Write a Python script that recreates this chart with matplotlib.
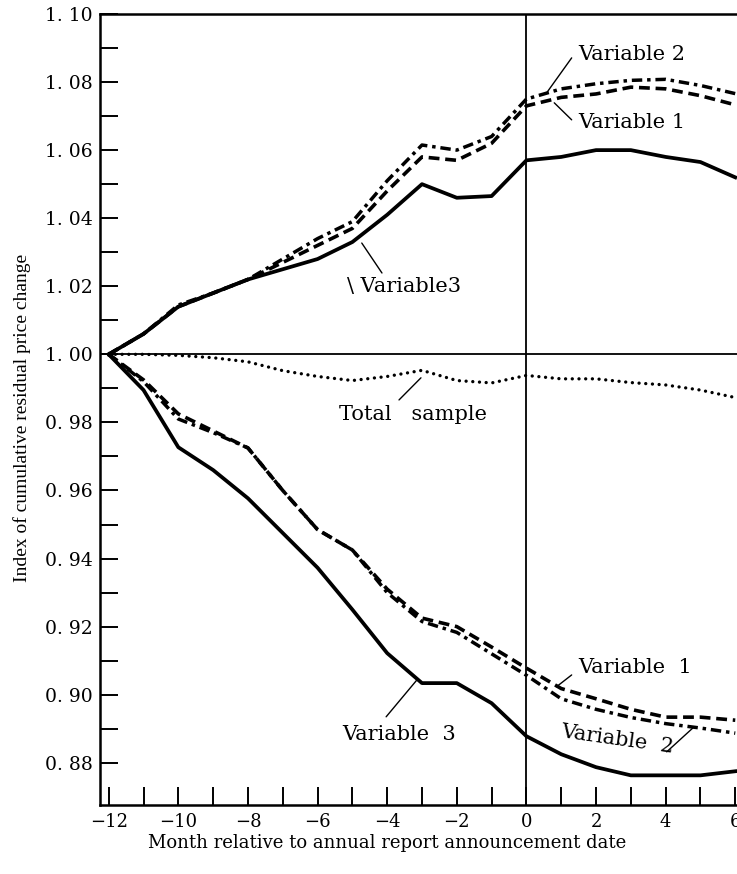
import matplotlib
matplotlib.use("Agg")
import matplotlib.pyplot as plt
import numpy as np

plt.rcParams["font.family"] = ["DejaVu Serif"]

# months relative to announcement
months = list(range(-12, 7))

# upper group (good news)
var1_up = [1.000, 1.006, 1.014, 1.018, 1.022, 1.027, 1.032, 1.037, 1.048, 1.058,
           1.057, 1.062, 1.073, 1.0755, 1.0765, 1.0785, 1.078, 1.076, 1.0733]
var2_up = [1.000, 1.006, 1.0145, 1.018, 1.022, 1.028, 1.034, 1.039, 1.051, 1.0615,
           1.060, 1.064, 1.075, 1.078, 1.0795, 1.0805, 1.0808, 1.079, 1.0766]
var3_up = [1.000, 1.006, 1.014, 1.018, 1.022, 1.025, 1.028, 1.033, 1.041, 1.050,
           1.046, 1.0465, 1.057, 1.058, 1.060, 1.060, 1.058, 1.0565, 1.052]

# total sample
total = [1.000, 1.000, 0.9997, 0.9990, 0.9978, 0.9952, 0.9935, 0.9923, 0.9935, 0.9953,
         0.9923, 0.9916, 0.9938, 0.9928, 0.9928, 0.9917, 0.9910, 0.9895, 0.9873]

# lower group (bad news)
var1_lo = [1.000, 0.9925, 0.9825, 0.9775, 0.9725, 0.960, 0.9485, 0.9425, 0.931, 0.9225,
           0.920, 0.914, 0.9078, 0.9018, 0.8988, 0.8957, 0.8934, 0.8934, 0.8925]
var2_lo = [1.000, 0.992, 0.981, 0.977, 0.9725, 0.960, 0.9485, 0.9425, 0.930, 0.9215,
           0.9183, 0.912, 0.9057, 0.8988, 0.8957, 0.8933, 0.8915, 0.8902, 0.8887]
var3_lo = [1.000, 0.9895, 0.9727, 0.966, 0.9577, 0.9475, 0.9373, 0.925, 0.9122, 0.9034,
           0.9034, 0.8975, 0.8878, 0.8825, 0.8787, 0.8763, 0.8763, 0.8763, 0.8775]

yticks = [0.88, 0.90, 0.92, 0.94, 0.96, 0.98, 1.00, 1.02, 1.04, 1.06, 1.08, 1.10]
ytick_labels = ["0. 88", "0. 90", "0. 92", "0. 94", "0. 96", "0. 98",
                "1. 00", "1. 02", "1. 04", "1. 06", "1. 08", "1. 10"]
xticks = [-12, -10, -8, -6, -4, -2, 0, 2, 4, 6]
xtick_labels = ["\u221212", "\u221210", "\u22128", "\u22126", "\u22124", "\u22122",
                "0", "2", "4", "6"]

fig = plt.figure(figsize=(7.37, 8.74), dpi=100)
ax = fig.add_axes([0.1357, 0.079, 0.8643, 0.905])

dash = (0, (3.0, 1.6))
dashdot = (0, (3.0, 1.4, 1.0, 1.4))

ax.plot(months, var3_up, color="black", lw=2.7, solid_joinstyle="round")
ax.plot(months, var1_up, color="black", lw=2.6, linestyle=dash)
ax.plot(months, var2_up, color="black", lw=2.5, linestyle=dashdot)
ax.plot(months, total, color="black", lw=2.4, linestyle=(0, (0.01, 2.0)),
        dash_capstyle="round")
ax.plot(months, var3_lo, color="black", lw=2.7, solid_joinstyle="round")
ax.plot(months, var1_lo, color="black", lw=2.6, linestyle=dash)
ax.plot(months, var2_lo, color="black", lw=2.5, linestyle=dashdot)

ax.axhline(1.0, color="black", lw=1.3)
ax.axvline(0, color="black", lw=1.3)

ax.set_xlim(-12.25, 6.05)
ax.set_ylim(0.8676, 1.10)

ax.spines["right"].set_visible(False)
for s in ["left", "bottom", "top"]:
    ax.spines[s].set_linewidth(1.8)

ax.set_yticks(yticks)
ax.set_yticklabels(ytick_labels)
ax.set_yticks(np.arange(0.89, 1.10, 0.02), minor=True)
ax.set_xticks(xticks)
ax.set_xticklabels(xtick_labels, fontsize=13)
ax.set_xticks(months, minor=True)
ax.tick_params(axis="both", which="both", direction="in", length=13, width=1.4)
ax.tick_params(axis="y", which="major", pad=5, labelsize=13.5)
ax.tick_params(axis="x", which="major", pad=6)

lp = dict(arrowstyle="-", color="black", lw=1.0, shrinkA=0, shrinkB=0)
fs = 15

# upper labels
ax.text(1.5, 1.088, "Variable 2", fontsize=fs, va="center", ha="left")
ax.annotate("", xy=(0.6, 1.0771), xytext=(1.3, 1.0871), arrowprops=lp)
ax.text(1.5, 1.068, "Variable 1", fontsize=fs, va="center", ha="left")
ax.annotate("", xy=(0.8, 1.0739), xytext=(1.3, 1.0689), arrowprops=lp)
ax.text(-5.15, 1.0198, "\\ Variable3", fontsize=fs, va="center", ha="left")
ax.annotate("", xy=(-4.73, 1.0327), xytext=(-4.15, 1.0239), arrowprops=lp)

# total sample
ax.text(-5.39, 0.9822, "Total   sample", fontsize=fs, va="center", ha="left")
ax.annotate("", xy=(-3.03, 0.9931), xytext=(-3.66, 0.9866), arrowprops=lp)

# lower labels
ax.text(1.5, 0.9079, "Variable  1", fontsize=fs, va="center", ha="left")
ax.annotate("", xy=(0.86, 0.9023), xytext=(1.3, 0.9058), arrowprops=lp)
ax.text(2.6, 0.8867, "Variable  2", fontsize=fs, va="center", ha="center",
        rotation=-8, rotation_mode="anchor")
ax.annotate("", xy=(4.78, 0.8902), xytext=(4.03, 0.8832), arrowprops=lp)
ax.text(-5.3, 0.8882, "Variable  3", fontsize=fs, va="center", ha="left")
ax.annotate("", xy=(-3.14, 0.9044), xytext=(-4.03, 0.8935), arrowprops=lp)

fig.text(0.525, 0.036, "Month relative to annual report announcement date",
         ha="center", va="center", fontsize=13)
fig.text(0.03, 0.522, "Index of cumulative residual price change",
         ha="center", va="center", rotation=90, fontsize=14,
         family="Liberation Serif")

fig.savefig("out.png", dpi=100)
